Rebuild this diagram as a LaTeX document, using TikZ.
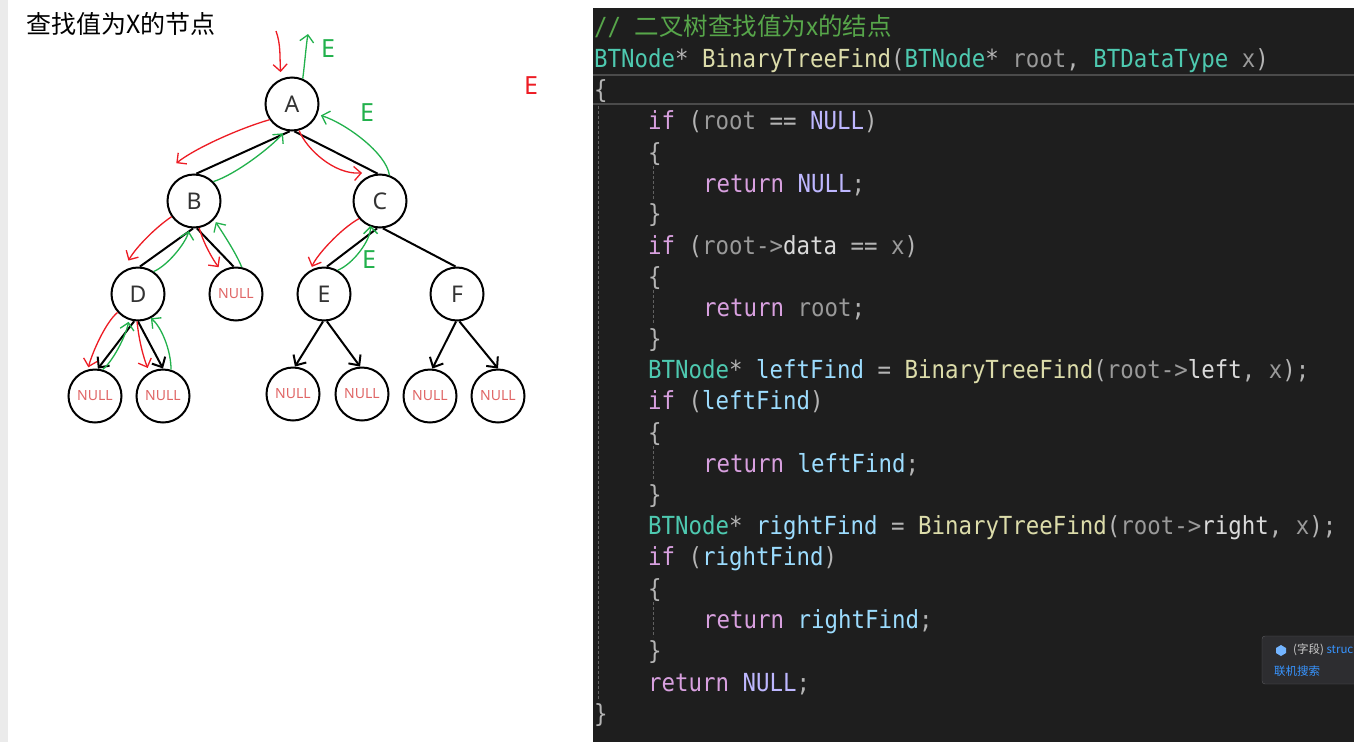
\documentclass[tikz,border=0pt]{standalone}
\usepackage{fontspec}
\usepackage{xcolor}
\usetikzlibrary{arrows.meta}

\newfontfamily\cjkfont{Noto Sans CJK SC}
\newfontfamily\codefont[FakeStretch=0.9]{DejaVu Sans Mono}
\newfontfamily\treefont{Noto Sans}

\definecolor{codebg}{HTML}{1E1E1E}
\definecolor{ccomment}{HTML}{57A64A}
\definecolor{ctype}{HTML}{4EC9B0}
\definecolor{cfunc}{HTML}{DCDCAA}
\definecolor{cparam}{HTML}{9A9A9A}
\definecolor{ckey}{HTML}{D8A0DF}
\definecolor{cmacro}{HTML}{BEB7FF}
\definecolor{clocal}{HTML}{9CDCFE}
\definecolor{cmember}{HTML}{DADADA}
\definecolor{cpunct}{HTML}{B4B4B4}
\definecolor{penred}{HTML}{ED1C24}
\definecolor{pengreen}{HTML}{22B14C}
\definecolor{nullred}{HTML}{E06666}
\definecolor{tipbg}{HTML}{2D2D30}
\definecolor{tipblue}{HTML}{3794FF}

\newcommand{\cty}[1]{\textcolor{ctype}{#1}}
\newcommand{\cfn}[1]{\textcolor{cfunc}{#1}}
\newcommand{\cpar}[1]{\textcolor{cparam}{#1}}
\newcommand{\ckw}[1]{\textcolor{ckey}{#1}}
\newcommand{\cmac}[1]{\textcolor{cmacro}{#1}}
\newcommand{\cloc}[1]{\textcolor{clocal}{#1}}
\newcommand{\cmem}[1]{\textcolor{cmember}{#1}}

\begin{document}
\begin{tikzpicture}[x=1pt, y=-1pt,
    tnode/.style={circle, draw=black, line width=2pt, minimum size=53pt, inner sep=0pt, text=black!80, font=\treefont\fontsize{23}{23}\selectfont},
    nullnode/.style={tnode, text=nullred, font=\treefont\fontsize{14}{14}\selectfont},
    edge/.style={line width=2pt},
    edgearr/.style={edge, -{Straight Barb[length=8pt, width=15pt]}},
    redpen/.style={penred, line width=1.3pt, -{Straight Barb[length=7pt, width=14pt]}},
    greenpen/.style={pengreen, line width=1.3pt, -{Straight Barb[length=7pt, width=14pt]}},
    pennote/.style={inner sep=0pt, font=\treefont\fontsize{25}{25}\selectfont},
    code/.style={anchor=base west, inner sep=0pt, text=cpunct, font=\codefont\fontsize{24.9}{24.9}\selectfont},
    guide/.style={densely dashed, draw=white!30!codebg, line width=1pt}]
  \useasboundingbox (0,0) rectangle (1354,742);
  \fill[white] (0,0) rectangle (1354,742);
  \fill[black!8] (0,0) rectangle (8,742);

  % title
  \node[anchor=west, inner sep=0pt, font=\cjkfont\fontsize{25}{25}\selectfont] (title) at (26,24) {查找值为X的节点};

  % tree
  \node[tnode] (A) at (292,104) {A};
  \node[tnode] (B) at (194,201) {B};
  \node[tnode] (C) at (380,201) {C};
  \node[tnode] (D) at (138,294) {D};
  \node[nullnode] (nb) at (236,294) {NULL};
  \node[tnode] (E) at (324,294) {E};
  \node[tnode] (F) at (457,294) {F};
  \node[nullnode] (n1) at (95,396) {NULL};
  \node[nullnode] (n2) at (163,396) {NULL};
  \node[nullnode] (n3) at (293,394) {NULL};
  \node[nullnode] (n4) at (362,394) {NULL};
  \node[nullnode] (n5) at (430,396) {NULL};
  \node[nullnode] (n6) at (498,396) {NULL};

  \draw[edge] (A.265) -- (B.85);
  \draw[edge] (A.275) -- (C.95);
  \draw[edge] (B.268) -- (D.86);
  \draw[edge] (B.276) -- (nb.95);
  \draw[edge] (C.264) -- (E.84);
  \draw[edge] (C.276) -- (F.93);
  \draw[edgearr] (D.262) -- (n1.84);
  \draw[edgearr] (D.270) -- (n2.90);
  \draw[edgearr] (E.268) -- (n3.86);
  \draw[edgearr] (E.276) -- (n4.94);
  \draw[edgearr] (F.268) -- (n5.85);
  \draw[edgearr] (F.275) -- (n6.90);

  % recursion going down (red)
  \coordinate (callin) at (276,31);
  \draw[redpen] (callin) .. controls +(5,14) and +(-1,-16) .. ([shift={(-2,-6)}]A.110);
  \draw[redpen] (A.215) .. controls +(-25,7) and +(22,-17) .. ([shift={(-4,-14)}]B.120);
  \draw[redpen] (A.285) .. controls +(7,18) and +(-28,2) .. ([shift={(-3,-5)}]C.123);
  \draw[redpen] (B.215) .. controls +(-15,10) and +(8,-14) .. ([shift={(-2,-7)}]D.106);
  \draw[redpen] (B.281) .. controls +(4,15) and +(-6,-8) .. ([shift={(-2,-4)}]nb.124);
  \draw[redpen] (C.220) .. controls +(-18,10) and +(5,-12) .. ([shift={(-1,-2)}]E.114);
  \draw[redpen] (D.222) .. controls +(-12,10) and +(4,-15) .. ([shift={(0,-2)}]n1.104);
  \draw[redpen] (D.268) .. controls +(2,20) and +(-4,-10) .. ([shift={(-2,-4)}]n2.119);

  % returning back up (green)
  \coordinate (callout) at (308,34);
  \draw[greenpen] (A.67) .. controls +(2,-15) and +(-2,12) .. (callout);
  \draw[greenpen] (B.45) .. controls +(22,-7) and +(-12,14) .. ([shift={(-1,3)}]A.253);
  \draw[greenpen] (C.70) .. controls +(-3,-22) and +(25,8) .. ([shift={(3,2)}]A.340);
  \draw[greenpen] (D.55) .. controls +(14,-6) and +(-3,12) .. ([shift={(0,3)}]B.259);
  \draw[greenpen] (nb.78) .. controls +(-6,-15) and +(5,8) .. ([shift={(2,2)}]B.316);
  \draw[greenpen] (E.60) .. controls +(15,-6) and +(0,15) .. ([shift={(0,-1)}]C.250);
  \draw[greenpen] (n1.74) .. controls +(10,-8) and +(-3,15) .. ([shift={(0,2)}]D.250);
  \draw[greenpen] (n2.73) .. controls +(0,-20) and +(10,8) .. (D.298);

  \node[pennote, text=pengreen] (eA) at (328,49) {E};
  \node[pennote, text=pengreen] (eC) at (367,113) {E};
  \node[pennote, text=pengreen] (eE) at (369,260) {E};
  \node[pennote, text=penred] (eR) at (531,86) {E};

  % code editor
  \fill[codebg] (593,8) rectangle (1354,742);
  \draw[white!20!codebg, line width=2pt] (593,75) -- (1354,75) (593,104) -- (1354,104);
  \draw[guide] (598,106) -- (598,700);
  \draw[guide] (653,166) -- (653,200);
  \draw[guide] (653,290) -- (653,325);
  \draw[guide] (653,446) -- (653,481);
  \draw[guide] (653,602) -- (653,637);

  \node[code] (l01) at (594,35) {\textcolor{ccomment}{// {\cjkfont\fontsize{24.5}{24.5}\selectfont 二叉树查找值为x的结点}}};
  \node[code] (l02) at (594,67) {\cty{BTNode}* \cfn{BinaryTreeFind}(\cty{BTNode}* \cpar{root}, \cty{BTDataType} \cpar{x})};
  \node[code] (l03) at (594,98) {\{};
  \node[code] (l04) at (648,129) {\ckw{if} (\cpar{root} == \cmac{NULL})};
  \node[code] (l05) at (648,161) {\{};
  \node[code] (l06) at (703,192) {\ckw{return} \cmac{NULL};};
  \node[code] (l07) at (648,222) {\}};
  \node[code] (l08) at (648,254) {\ckw{if} (\cpar{root->}\cmem{data} == \cpar{x})};
  \node[code] (l09) at (648,285) {\{};
  \node[code] (l10) at (703,316) {\ckw{return} \cpar{root};};
  \node[code] (l11) at (648,347) {\}};
  \node[code] (l12) at (648,378) {\cty{BTNode}* \cloc{leftFind} = \cfn{BinaryTreeFind}(\cpar{root->}\cmem{left}, \cpar{x});};
  \node[code] (l13) at (648,409) {\ckw{if} (\cloc{leftFind})};
  \node[code] (l14) at (648,441) {\{};
  \node[code] (l15) at (703,472) {\ckw{return} \cloc{leftFind};};
  \node[code] (l16) at (648,503) {\}};
  \node[code] (l17) at (648,534) {\cty{BTNode}* \cloc{rightFind} = \cfn{BinaryTreeFind}(\cpar{root->}\cmem{right}, \cpar{x});};
  \node[code] (l18) at (648,565) {\ckw{if} (\cloc{rightFind})};
  \node[code] (l19) at (648,597) {\{};
  \node[code] (l20) at (703,628) {\ckw{return} \cloc{rightFind};};
  \node[code] (l21) at (648,659) {\}};
  \node[code] (l22) at (648,691) {\ckw{return} \cmac{NULL};};
  \node[code] (l23) at (594,722) {\}};

  % hover tooltip
  \filldraw[fill=tipbg, draw=white!22!tipbg, rounded corners=3pt] (1262,636) rectangle (1370,684);
  \fill[tipblue!70!white] (1276,648) -- (1281,645) -- (1286,648) -- (1286,653) -- (1281,656) -- (1276,653) -- cycle;
  \node[anchor=west, inner sep=0pt, text=black!20, font=\cjkfont\fontsize{11.5}{11.5}\selectfont] (tiptype) at (1293,650) {(字段) \textcolor{tipblue}{struc}};
  \node[anchor=west, inner sep=0pt, text=tipblue, font=\cjkfont\fontsize{11.5}{11.5}\selectfont] (tiplink) at (1274,671) {联机搜索};
\end{tikzpicture}
\end{document}
